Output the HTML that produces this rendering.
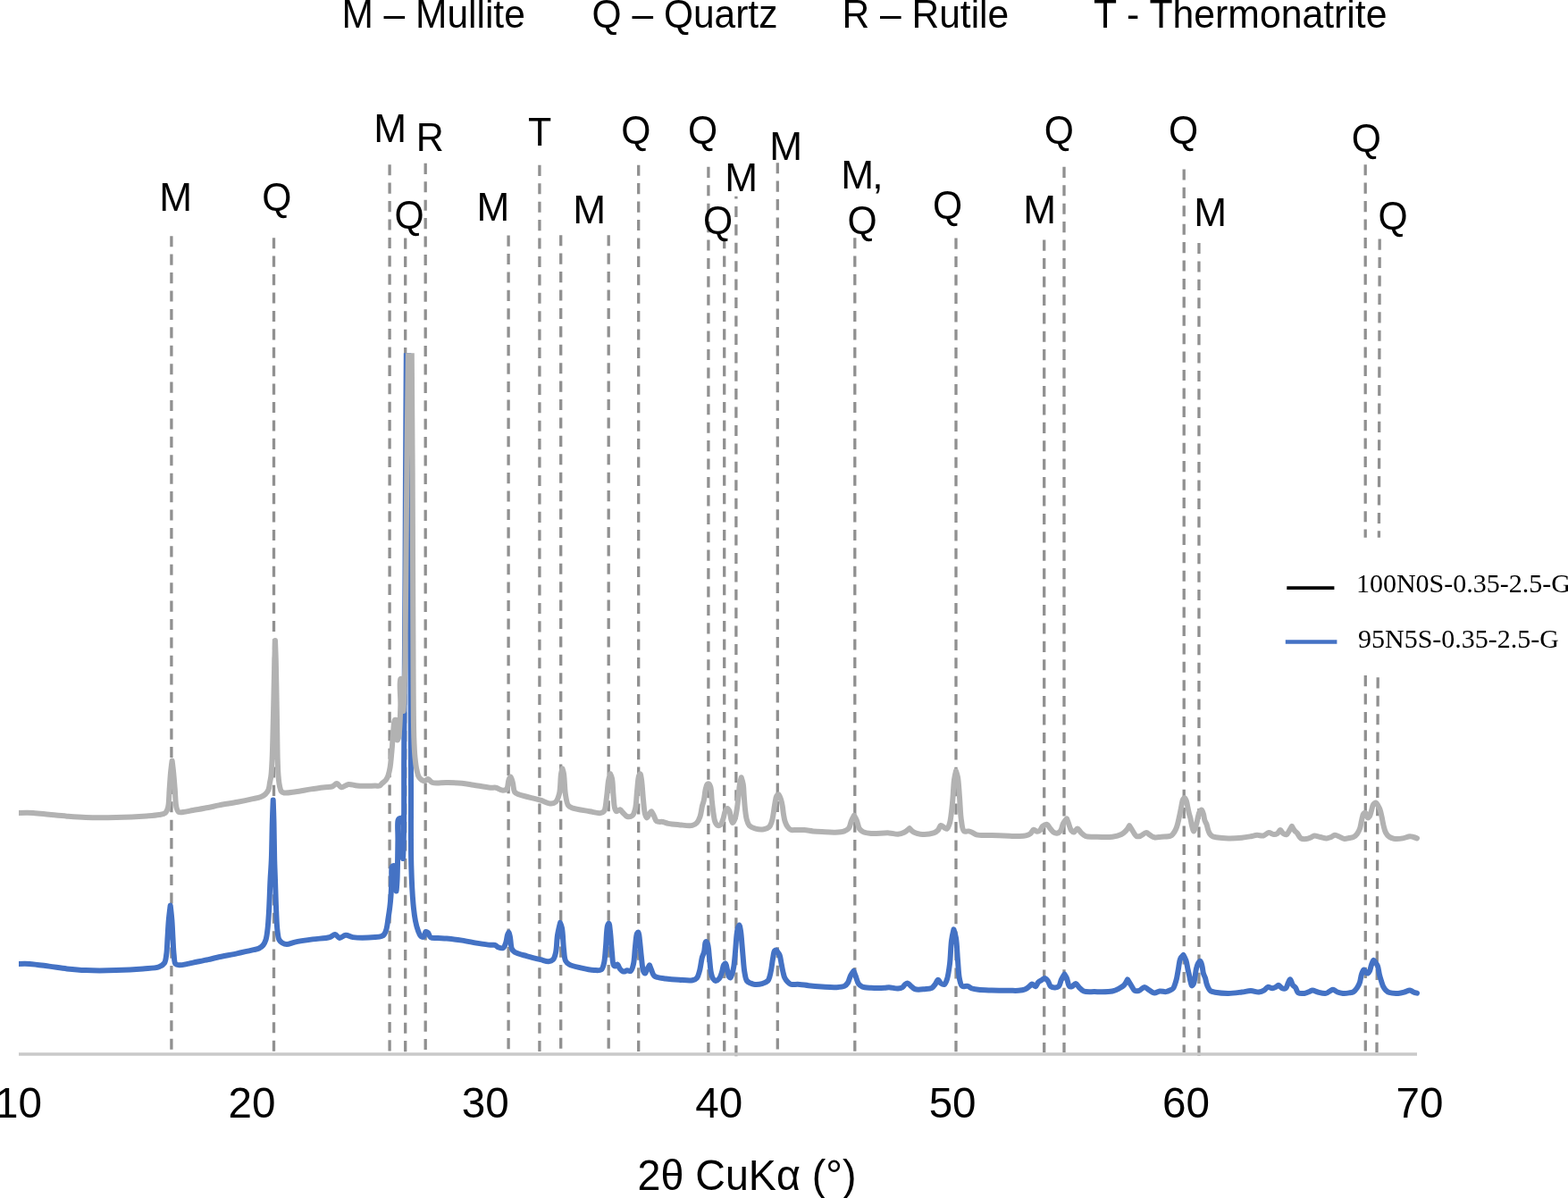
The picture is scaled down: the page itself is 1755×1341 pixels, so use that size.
<!DOCTYPE html>
<html><head><meta charset="utf-8"><style>
html,body{margin:0;padding:0;background:#fff;width:1755px;height:1341px;overflow:hidden;}
svg{display:block;}
text{font-family:"Liberation Sans",Arial,sans-serif;fill:#000;}
</style></head><body>
<svg width="1755" height="1341" viewBox="0 0 1755 1341">
<rect width="1755" height="1341" fill="#fff"/>
<defs><clipPath id="pa"><rect x="21" y="395.3" width="1580" height="800"/></clipPath></defs>
<g font-size="42.5">
<text transform="translate(382.4,31) scale(1,1.04)">M – Mullite</text>
<text transform="translate(662.6,31) scale(1,1.04)">Q – Quartz</text>
<text transform="translate(942.6,31) scale(1,1.04)">R – Rutile</text>
<text transform="translate(1223.9,31) scale(1.006,1.04)">T - Thermonatrite</text>
</g>
<g stroke="#909090" stroke-width="3.3" stroke-dasharray="12.1 8.32" fill="none">
<line x1="191.9" y1="264.2" x2="191.9" y2="1178"/>
<line x1="306.5" y1="266.2" x2="306.5" y2="1178"/>
<line x1="436.1" y1="184.2" x2="436.1" y2="1178"/>
<line x1="453.7" y1="266.6" x2="453.7" y2="1178"/>
<line x1="476.2" y1="182.8" x2="476.2" y2="1178"/>
<line x1="569.1" y1="263.6" x2="569.1" y2="1178"/>
<line x1="603.9" y1="184.8" x2="603.9" y2="1178"/>
<line x1="627.7" y1="263.2" x2="627.7" y2="1178"/>
<line x1="681.2" y1="263.2" x2="681.2" y2="1178"/>
<line x1="714.7" y1="184.7" x2="714.7" y2="1178"/>
<line x1="792.9" y1="186.8" x2="792.9" y2="1178"/>
<line x1="810.7" y1="266.2" x2="810.7" y2="1178"/>
<line x1="823.9" y1="219.8" x2="823.9" y2="1183" stroke-dashoffset="9.3"/>
<line x1="870.3" y1="182.2" x2="870.3" y2="1178"/>
<line x1="956.8" y1="266.2" x2="956.8" y2="1178"/>
<line x1="1070.0" y1="266.6" x2="1070.0" y2="1178"/>
<line x1="1168.7" y1="268.6" x2="1168.7" y2="1178"/>
<line x1="1191.0" y1="186.8" x2="1191.0" y2="1178"/>
<line x1="1325.2" y1="189.4" x2="1325.2" y2="1178"/>
<line x1="1341.95" y1="272" x2="1341.95" y2="1182"/>
<line x1="1528.2" y1="184.2" x2="1528.2" y2="601.7"/>
<line x1="1528.3" y1="756.1" x2="1528.3" y2="1178"/>
<line x1="1544.2" y1="267.6" x2="1543.4" y2="601.7"/>
<line x1="1542.2" y1="758.3" x2="1541.0" y2="1178"/>
</g>
<g clip-path="url(#pa)" fill="none" stroke-width="6" stroke-linejoin="round" stroke-linecap="round">
<path stroke="#4472c4" d="M21.00,1078.90 C21.00,1078.90 28.41,1078.62 33.00,1078.90 C39.24,1079.28 47.85,1080.66 55.00,1081.60 C61.83,1082.50 68.24,1083.65 75.00,1084.40 C81.90,1085.16 88.15,1085.78 96.00,1086.10 C105.97,1086.50 119.03,1086.41 130.00,1086.10 C140.32,1085.81 151.28,1085.16 160.00,1084.40 C166.77,1083.81 173.75,1083.94 178.00,1082.30 C180.71,1081.25 182.62,1080.07 184.00,1078.00 C185.63,1075.56 185.73,1071.85 186.30,1068.00 C187.05,1062.90 187.09,1056.16 187.50,1050.00 C187.93,1043.51 188.23,1036.34 188.80,1030.00 C189.32,1024.23 190.70,1013.50 190.70,1013.50 C190.70,1013.50 191.94,1024.23 192.40,1030.00 C192.90,1036.34 193.12,1043.51 193.50,1050.00 C193.86,1056.16 193.99,1062.75 194.60,1068.00 C195.08,1072.13 194.85,1077.15 196.50,1079.00 C197.57,1080.20 199.23,1080.19 201.00,1080.30 C203.47,1080.46 207.31,1079.40 210.00,1078.90 C212.21,1078.49 213.49,1078.13 216.00,1077.60 C220.22,1076.71 228.09,1075.17 233.00,1074.10 C236.78,1073.28 238.98,1072.67 243.00,1071.80 C249.09,1070.48 258.81,1068.61 266.00,1067.10 C272.37,1065.76 279.62,1064.29 284.00,1063.20 C286.55,1062.56 288.22,1062.40 290.00,1061.50 C291.70,1060.64 293.28,1059.49 294.50,1058.00 C295.83,1056.38 296.72,1054.41 297.50,1052.00 C298.56,1048.75 298.95,1044.52 299.50,1040.00 C300.20,1034.19 300.55,1027.60 301.00,1020.00 C301.59,1009.96 301.98,995.44 302.50,985.00 C302.92,976.53 303.45,970.82 303.80,962.00 C304.28,950.10 304.43,932.12 304.80,920.00 C305.08,910.74 305.70,895.50 305.70,895.50 C305.70,895.50 306.27,910.74 306.50,920.00 C306.80,932.12 306.89,950.09 307.20,962.00 C307.43,970.81 307.71,976.53 308.00,985.00 C308.36,995.45 308.72,1009.68 309.20,1020.00 C309.58,1028.18 309.74,1036.11 310.50,1042.00 C311.02,1046.00 311.24,1049.64 312.50,1052.00 C313.38,1053.64 314.61,1054.67 316.00,1055.50 C317.43,1056.35 319.09,1056.97 321.00,1057.00 C323.56,1057.04 326.39,1055.37 330.00,1054.60 C335.33,1053.47 343.41,1052.33 350.00,1051.40 C356.41,1050.50 364.53,1050.48 369.00,1049.10 C371.66,1048.28 373.14,1045.83 375.00,1046.00 C376.80,1046.17 378.12,1049.68 380.00,1049.90 C382.07,1050.14 384.56,1046.87 387.00,1046.70 C389.55,1046.52 391.55,1048.59 395.00,1049.10 C400.98,1049.98 414.24,1049.55 420.00,1049.10 C423.06,1048.86 425.21,1048.70 427.00,1048.00 C428.28,1047.50 429.16,1047.02 430.00,1046.00 C431.13,1044.63 431.81,1042.39 432.50,1040.00 C433.44,1036.73 433.87,1032.04 434.50,1028.00 C435.14,1023.88 435.80,1019.67 436.30,1015.50 C436.80,1011.34 437.18,1007.55 437.50,1003.00 C437.88,997.55 438.13,990.62 438.30,985.00 C438.45,980.04 437.82,973.32 438.50,971.00 C438.75,970.15 438.99,969.69 439.50,969.40 C440.09,969.07 441.35,969.02 442.00,969.40 C442.72,969.81 443.13,970.61 443.50,972.00 C444.59,976.05 443.22,997.49 443.50,997.50 C443.70,997.51 444.23,990.46 444.50,985.00 C445.02,974.65 445.22,952.35 445.40,940.00 C445.53,931.37 444.46,921.12 445.60,918.00 C445.96,917.01 446.35,916.61 447.00,916.30 C447.75,915.94 449.33,915.79 450.00,916.30 C450.76,916.88 450.74,918.08 451.00,920.00 C451.83,926.29 450.80,961.00 451.00,961.00 C451.18,961.00 451.78,942.74 452.00,930.00 C452.36,909.54 452.10,873.55 452.20,850.00 C452.28,831.38 452.37,821.38 452.50,800.00 C452.73,761.75 453.16,698.99 453.50,640.00 C453.92,567.00 454.14,450.53 454.80,395.00 C455.14,366.40 456.00,330.00 456.00,330.00 C456.00,330.00 456.94,366.40 457.30,395.00 C457.99,450.53 458.06,572.75 458.50,640.00 C458.81,687.06 459.25,720.00 459.50,760.00 C459.75,800.00 459.86,842.98 460.00,880.00 C460.12,911.88 459.64,944.68 460.30,969.00 C460.76,985.92 461.46,1000.57 462.50,1012.00 C463.20,1019.63 463.91,1025.56 465.00,1031.00 C465.84,1035.20 466.83,1038.93 468.00,1042.00 C468.90,1044.35 469.72,1046.93 471.00,1048.00 C471.87,1048.73 473.17,1049.29 474.00,1048.90 C475.18,1048.35 475.39,1043.58 476.50,1043.10 C477.22,1042.79 478.24,1043.36 479.00,1044.00 C480.16,1044.98 480.38,1048.26 482.00,1049.30 C483.86,1050.49 487.18,1049.79 490.00,1050.00 C493.15,1050.23 496.23,1050.27 500.00,1050.60 C504.92,1051.04 511.27,1051.74 517.00,1052.60 C522.93,1053.49 529.37,1055.00 535.00,1055.90 C539.95,1056.69 545.50,1057.56 549.00,1057.80 C551.08,1057.94 552.49,1057.34 554.00,1057.80 C555.48,1058.25 556.52,1059.95 558.00,1060.50 C559.51,1061.06 561.69,1061.75 563.00,1061.10 C564.43,1060.39 565.21,1057.95 566.00,1055.90 C566.99,1053.33 567.25,1048.97 568.00,1046.70 C568.47,1045.29 569.05,1043.36 569.50,1043.40 C570.08,1043.45 570.52,1046.93 571.00,1049.30 C571.71,1052.79 571.66,1059.60 573.00,1062.40 C573.77,1064.03 574.44,1064.69 576.00,1065.70 C578.83,1067.53 585.23,1068.90 590.00,1070.30 C594.89,1071.74 600.63,1073.15 605.00,1074.20 C608.37,1075.01 611.46,1076.41 614.00,1076.20 C615.94,1076.04 617.72,1075.50 619.00,1074.20 C620.60,1072.58 621.22,1069.66 622.00,1066.40 C623.20,1061.39 623.05,1052.66 624.00,1046.70 C624.80,1041.67 627.00,1032.90 627.00,1032.90 C627.00,1032.90 628.44,1036.13 629.00,1038.80 C630.09,1044.00 630.20,1055.69 631.00,1062.40 C631.59,1067.42 631.50,1072.54 633.00,1075.50 C633.98,1077.43 635.09,1078.36 637.00,1079.50 C639.96,1081.27 645.48,1082.33 650.00,1083.40 C654.79,1084.53 660.77,1085.80 665.00,1086.00 C668.07,1086.15 671.17,1086.72 673.00,1085.40 C674.81,1084.09 675.22,1081.22 676.00,1078.20 C677.20,1073.54 677.37,1066.32 678.00,1059.80 C678.71,1052.43 678.79,1040.06 680.00,1036.20 C680.43,1034.83 681.08,1033.52 681.50,1033.60 C682.24,1033.74 682.53,1039.01 683.00,1042.80 C683.75,1048.84 684.23,1059.51 685.00,1066.40 C685.60,1071.80 685.54,1079.10 687.00,1080.80 C687.55,1081.44 688.37,1081.55 689.00,1081.40 C689.72,1081.23 690.33,1079.40 691.00,1079.50 C691.99,1079.64 692.87,1083.33 694.00,1084.70 C694.92,1085.81 696.04,1086.88 697.00,1087.30 C697.69,1087.60 698.28,1087.61 699.00,1087.50 C699.92,1087.36 700.91,1086.34 702.00,1086.20 C703.22,1086.04 704.93,1087.42 706.00,1086.80 C707.54,1085.90 708.22,1082.26 709.00,1079.00 C710.20,1073.99 710.27,1065.35 711.00,1059.30 C711.62,1054.12 711.83,1047.05 713.00,1044.90 C713.43,1044.11 714.09,1043.45 714.50,1043.60 C715.40,1043.93 715.52,1049.15 716.00,1052.80 C716.70,1058.10 717.27,1066.38 718.00,1072.40 C718.62,1077.58 718.85,1083.98 720.00,1086.80 C720.55,1088.16 721.37,1089.55 722.00,1089.50 C722.72,1089.44 723.24,1086.91 724.00,1085.50 C724.88,1083.87 727.00,1080.30 727.00,1080.30 C727.00,1080.30 728.24,1083.68 729.00,1085.50 C729.87,1087.58 730.60,1090.68 732.00,1092.10 C733.09,1093.21 734.36,1093.49 736.00,1094.00 C738.36,1094.73 741.61,1094.99 745.00,1095.40 C749.36,1095.93 755.00,1096.38 760.00,1096.70 C765.00,1097.02 771.41,1098.10 775.00,1097.30 C777.20,1096.81 778.72,1096.14 780.00,1094.70 C781.57,1092.93 782.11,1089.93 783.00,1086.80 C784.22,1082.50 784.92,1074.89 786.00,1071.10 C786.64,1068.86 787.42,1068.02 788.00,1065.90 C788.85,1062.79 788.94,1054.37 790.00,1054.10 C790.56,1053.96 791.45,1055.36 792.00,1056.70 C793.21,1059.65 793.35,1067.05 794.00,1072.40 C794.68,1077.98 795.06,1085.32 796.00,1089.50 C796.57,1092.02 797.01,1093.92 798.00,1095.40 C798.79,1096.58 799.90,1097.92 801.00,1098.00 C802.21,1098.08 803.91,1096.71 805.00,1095.40 C806.40,1093.72 807.17,1090.69 808.00,1088.20 C808.85,1085.66 809.04,1081.99 810.00,1080.30 C810.57,1079.31 811.43,1078.15 812.00,1078.30 C812.92,1078.54 813.35,1083.04 814.00,1085.50 C814.68,1088.07 815.08,1092.03 816.00,1093.40 C816.44,1094.05 817.03,1094.62 817.50,1094.50 C818.26,1094.30 818.92,1091.75 819.50,1090.00 C820.25,1087.75 820.77,1085.25 821.30,1082.00 C822.10,1077.03 822.65,1069.06 823.20,1063.00 C823.70,1057.44 823.96,1051.41 824.50,1047.00 C824.88,1043.87 825.16,1041.09 825.80,1039.00 C826.24,1037.56 826.92,1035.46 827.40,1035.50 C828.03,1035.56 828.59,1039.68 829.00,1042.00 C829.46,1044.61 829.58,1047.03 829.90,1050.40 C830.38,1055.46 830.92,1063.07 831.50,1069.40 C832.08,1075.74 832.46,1083.18 833.40,1088.40 C834.08,1092.14 834.41,1095.87 835.90,1097.90 C836.94,1099.33 838.65,1099.85 840.00,1100.50 C841.18,1101.07 842.02,1101.50 843.50,1101.70 C845.87,1102.02 850.21,1101.85 853.00,1101.10 C855.42,1100.45 857.98,1099.41 859.40,1097.90 C860.63,1096.60 860.91,1094.85 861.50,1093.00 C862.23,1090.73 862.66,1088.12 863.20,1085.20 C863.88,1081.51 864.39,1076.35 865.10,1072.60 C865.68,1069.53 865.91,1065.48 867.00,1064.30 C867.53,1063.73 868.31,1063.51 868.90,1063.70 C869.68,1063.95 870.36,1065.54 871.00,1066.50 C871.63,1067.44 872.21,1068.10 872.70,1069.40 C873.54,1071.61 873.97,1075.73 874.60,1078.90 C875.23,1082.07 875.80,1085.56 876.50,1088.40 C877.08,1090.76 877.48,1092.93 878.40,1094.80 C879.23,1096.48 880.42,1098.01 881.60,1099.20 C882.64,1100.25 883.97,1101.30 885.00,1101.70 C885.71,1101.97 886.11,1101.86 887.00,1101.90 C888.78,1101.99 892.19,1101.72 895.00,1101.90 C898.15,1102.10 901.33,1102.80 905.00,1103.20 C909.49,1103.69 915.00,1104.17 920.00,1104.50 C925.00,1104.83 930.51,1105.39 935.00,1105.20 C938.68,1105.05 942.55,1105.09 945.00,1103.90 C946.82,1103.02 947.90,1101.68 949.00,1100.00 C950.35,1097.94 950.81,1094.41 952.00,1092.10 C953.03,1090.09 955.50,1086.80 955.50,1086.80 C955.50,1086.80 957.13,1091.10 958.00,1093.40 C958.95,1095.92 959.60,1099.38 961.00,1101.30 C962.09,1102.80 963.23,1103.75 965.00,1104.50 C967.48,1105.55 971.32,1105.56 975.00,1105.80 C979.49,1106.09 986.34,1106.02 990.00,1105.80 C992.12,1105.67 993.05,1105.19 995.00,1105.20 C997.76,1105.21 1002.25,1106.67 1005.00,1106.50 C1006.97,1106.38 1008.64,1106.02 1010.00,1105.20 C1011.26,1104.44 1011.91,1102.68 1013.00,1101.90 C1013.93,1101.23 1015.04,1100.45 1016.00,1100.60 C1017.05,1100.76 1017.86,1102.25 1019.00,1103.20 C1020.44,1104.40 1021.84,1106.44 1024.00,1107.20 C1026.83,1108.19 1031.64,1107.49 1035.00,1107.20 C1037.89,1106.95 1040.93,1106.95 1043.00,1105.80 C1044.78,1104.81 1045.81,1102.85 1047.00,1101.30 C1048.13,1099.82 1048.97,1096.74 1050.00,1096.70 C1050.97,1096.66 1051.77,1099.73 1053.00,1100.60 C1054.14,1101.40 1055.90,1102.35 1057.00,1101.90 C1058.37,1101.33 1059.15,1098.56 1060.00,1096.00 C1061.38,1091.87 1062.21,1085.30 1063.00,1079.00 C1063.98,1071.23 1064.02,1059.91 1065.00,1052.80 C1065.68,1047.85 1067.50,1040.30 1067.50,1040.30 C1067.50,1040.30 1069.33,1046.05 1070.00,1050.10 C1071.06,1056.47 1071.30,1067.06 1072.00,1075.00 C1072.64,1082.30 1072.77,1090.74 1074.00,1096.00 C1074.78,1099.33 1075.25,1102.70 1077.00,1103.90 C1078.47,1104.91 1081.14,1103.45 1083.00,1103.90 C1084.80,1104.34 1086.14,1105.86 1088.00,1106.50 C1090.09,1107.22 1092.21,1107.48 1095.00,1107.80 C1099.05,1108.27 1104.64,1108.33 1110.00,1108.50 C1116.19,1108.69 1124.48,1108.76 1130.00,1108.80 C1133.91,1108.83 1136.97,1109.08 1140.00,1108.80 C1142.55,1108.56 1144.94,1108.33 1147.00,1107.50 C1148.89,1106.74 1150.57,1105.28 1152.00,1104.20 C1153.16,1103.32 1153.90,1101.68 1155.00,1101.60 C1156.21,1101.52 1157.86,1104.44 1159.00,1104.20 C1160.22,1103.94 1160.78,1100.82 1162.00,1099.60 C1163.14,1098.46 1164.70,1097.79 1166.00,1097.00 C1167.19,1096.27 1168.38,1094.87 1169.50,1095.00 C1170.72,1095.15 1171.98,1096.93 1173.00,1098.30 C1174.20,1099.90 1174.53,1103.02 1176.00,1104.20 C1177.30,1105.25 1179.43,1105.55 1181.00,1105.50 C1182.41,1105.46 1183.93,1105.22 1185.00,1104.20 C1186.51,1102.76 1186.85,1098.77 1188.00,1096.40 C1189.04,1094.25 1191.50,1090.50 1191.50,1090.50 C1191.50,1090.50 1193.21,1093.19 1194.00,1095.00 C1195.08,1097.48 1195.49,1103.10 1197.00,1104.20 C1197.84,1104.81 1198.99,1104.56 1200.00,1104.20 C1201.32,1103.72 1202.72,1100.79 1204.00,1100.90 C1205.39,1101.02 1206.52,1104.08 1208.00,1105.50 C1209.51,1106.95 1210.80,1108.67 1213.00,1109.50 C1216.01,1110.64 1220.49,1110.05 1225.00,1110.10 C1230.82,1110.16 1239.91,1110.59 1245.00,1109.50 C1248.35,1108.78 1250.70,1107.42 1253.00,1106.20 C1254.92,1105.18 1256.56,1104.39 1258.00,1102.90 C1259.62,1101.22 1262.00,1096.40 1262.00,1096.40 C1262.00,1096.40 1264.64,1100.80 1266.00,1102.90 C1267.31,1104.93 1268.31,1107.90 1270.00,1108.80 C1271.42,1109.55 1273.33,1109.29 1275.00,1108.80 C1277.00,1108.21 1279.09,1104.89 1281.00,1104.90 C1282.74,1104.91 1284.23,1107.15 1286.00,1108.20 C1287.88,1109.32 1289.96,1111.21 1292.00,1111.40 C1293.96,1111.58 1295.90,1109.73 1298.00,1109.50 C1300.22,1109.25 1302.89,1110.38 1305.00,1110.10 C1306.84,1109.86 1308.58,1109.00 1310.00,1108.30 C1311.16,1107.73 1312.20,1107.32 1313.00,1106.40 C1313.94,1105.33 1314.39,1103.65 1315.00,1102.00 C1315.74,1100.00 1316.39,1097.76 1317.00,1095.20 C1317.76,1091.97 1318.33,1087.76 1319.00,1084.10 C1319.66,1080.50 1319.78,1076.08 1321.00,1073.40 C1321.88,1071.47 1324.50,1069.00 1324.50,1069.00 C1324.50,1069.00 1326.70,1072.92 1327.50,1075.30 C1328.45,1078.14 1328.86,1082.12 1329.50,1085.00 C1330.02,1087.33 1330.52,1089.12 1331.00,1091.30 C1331.52,1093.64 1331.94,1096.43 1332.50,1098.60 C1332.96,1100.38 1333.31,1103.26 1334.00,1103.40 C1334.55,1103.51 1335.47,1102.10 1336.00,1101.00 C1336.82,1099.31 1337.03,1096.39 1337.50,1093.80 C1338.04,1090.81 1338.31,1086.89 1339.00,1084.10 C1339.55,1081.89 1340.09,1079.76 1341.00,1078.30 C1341.69,1077.19 1342.81,1075.64 1343.50,1075.80 C1344.41,1076.01 1344.94,1079.47 1345.50,1081.60 C1346.15,1084.10 1346.30,1087.54 1347.00,1089.90 C1347.55,1091.75 1348.44,1092.97 1349.00,1094.70 C1349.63,1096.63 1349.88,1099.05 1350.50,1101.00 C1351.06,1102.76 1351.69,1104.46 1352.50,1105.90 C1353.22,1107.19 1353.85,1108.50 1355.00,1109.30 C1356.28,1110.18 1357.86,1110.32 1360.00,1110.70 C1363.64,1111.35 1370.00,1111.93 1375.00,1111.90 C1380.00,1111.87 1385.51,1111.02 1390.00,1110.50 C1393.68,1110.07 1396.76,1109.08 1400.00,1109.10 C1403.08,1109.12 1406.33,1110.74 1409.00,1110.50 C1411.23,1110.30 1413.29,1109.41 1415.00,1108.40 C1416.58,1107.47 1417.48,1105.15 1419.00,1104.80 C1420.49,1104.45 1422.43,1106.25 1424.00,1106.20 C1425.42,1106.15 1426.80,1105.42 1428.00,1104.80 C1429.12,1104.23 1429.95,1102.64 1431.00,1102.70 C1432.26,1102.77 1433.56,1105.66 1435.00,1106.20 C1436.25,1106.67 1437.92,1106.89 1439.00,1106.20 C1440.44,1105.28 1441.07,1101.60 1442.00,1099.80 C1442.70,1098.44 1443.30,1096.27 1444.00,1096.30 C1444.93,1096.34 1445.82,1101.08 1447.00,1102.70 C1447.90,1103.93 1449.09,1104.31 1450.00,1105.50 C1451.14,1106.99 1451.40,1110.12 1453.00,1111.20 C1454.68,1112.33 1457.78,1112.16 1460.00,1111.90 C1462.11,1111.65 1464.36,1110.47 1466.00,1109.80 C1467.19,1109.32 1467.81,1108.46 1469.00,1108.40 C1470.64,1108.32 1472.77,1109.94 1475.00,1110.50 C1477.67,1111.17 1481.50,1112.35 1484.00,1111.90 C1485.98,1111.54 1487.53,1109.85 1489.00,1109.10 C1490.12,1108.53 1490.88,1107.66 1492.00,1107.70 C1493.47,1107.75 1495.20,1109.80 1497.00,1110.50 C1498.86,1111.22 1500.91,1111.73 1503.00,1111.90 C1505.23,1112.08 1507.88,1111.75 1510.00,1111.40 C1511.82,1111.10 1513.54,1110.99 1515.00,1110.10 C1516.58,1109.14 1517.86,1107.31 1519.00,1105.60 C1520.22,1103.77 1521.20,1101.71 1522.00,1099.40 C1522.93,1096.73 1523.10,1092.90 1524.00,1090.40 C1524.69,1088.47 1525.59,1085.59 1526.50,1085.50 C1527.28,1085.42 1528.13,1087.93 1529.00,1088.60 C1529.65,1089.10 1530.39,1089.66 1531.00,1089.50 C1531.75,1089.30 1532.42,1087.97 1533.00,1086.80 C1533.84,1085.12 1534.21,1082.17 1535.00,1080.10 C1535.73,1078.20 1536.57,1074.91 1537.50,1074.80 C1538.27,1074.71 1539.25,1076.79 1540.00,1077.90 C1540.76,1079.02 1541.43,1079.95 1542.00,1081.50 C1542.89,1083.92 1543.26,1088.36 1544.00,1091.30 C1544.62,1093.76 1545.31,1095.85 1546.00,1098.00 C1546.65,1100.01 1547.13,1102.04 1548.00,1103.80 C1548.82,1105.45 1549.79,1107.08 1551.00,1108.30 C1552.14,1109.45 1553.27,1110.38 1555.00,1111.00 C1557.50,1111.89 1561.97,1112.06 1565.00,1111.90 C1567.55,1111.76 1569.78,1111.11 1572.00,1110.50 C1574.10,1109.93 1576.23,1108.27 1578.00,1108.40 C1579.49,1108.51 1580.64,1109.94 1582.00,1110.50 C1583.31,1111.03 1586.00,1111.70 1586.00,1111.70"/>
<path stroke="#b2b2b2" d="M21.00,910.00 C21.00,910.00 31.52,909.73 37.00,910.00 C42.83,910.29 48.84,911.20 55.00,911.80 C61.49,912.43 68.25,913.17 75.00,913.70 C81.91,914.24 88.16,914.76 96.00,915.00 C105.97,915.31 118.67,915.27 130.00,915.00 C141.34,914.73 155.15,914.05 164.00,913.40 C169.69,912.98 174.16,912.73 178.00,912.00 C180.76,911.47 183.33,911.39 185.00,910.00 C186.61,908.67 187.25,906.68 188.00,904.00 C189.29,899.37 189.09,890.58 189.60,884.00 C190.09,877.59 190.44,870.79 191.00,865.00 C191.47,860.11 192.60,851.50 192.60,851.50 C192.60,851.50 193.70,860.11 194.20,865.00 C194.79,870.79 195.26,877.59 195.80,884.00 C196.36,890.58 196.27,899.63 197.50,904.00 C198.15,906.31 198.69,908.19 200.00,909.00 C201.24,909.77 203.02,909.18 205.00,909.00 C207.96,908.73 211.93,907.73 216.00,907.00 C221.05,906.10 227.83,905.01 233.00,904.00 C237.36,903.14 240.43,902.30 245.00,901.40 C251.02,900.22 259.48,898.95 266.00,897.70 C271.70,896.61 277.30,895.45 282.00,894.40 C285.73,893.57 289.31,893.10 292.00,892.00 C294.03,891.17 295.59,890.31 297.00,889.00 C298.44,887.66 299.67,885.96 300.50,884.00 C301.45,881.73 301.52,878.58 302.00,876.00 C302.45,873.59 302.93,871.92 303.30,869.00 C303.90,864.23 304.25,857.06 304.60,850.00 C305.04,841.14 305.21,830.96 305.50,820.00 C305.85,806.73 306.19,789.93 306.50,776.00 C306.78,763.40 307.02,750.66 307.30,740.00 C307.52,731.48 308.00,717.00 308.00,717.00 C308.00,717.00 308.57,731.48 308.80,740.00 C309.09,750.66 309.28,763.40 309.50,776.00 C309.75,789.93 309.98,806.73 310.20,820.00 C310.38,830.95 310.43,841.27 310.70,850.00 C310.91,856.76 311.04,862.61 311.50,868.00 C311.87,872.41 312.26,876.72 313.00,880.00 C313.54,882.37 313.92,884.76 315.00,886.00 C315.78,886.90 316.60,887.24 318.00,887.50 C320.77,888.01 326.39,886.81 331.00,886.20 C336.30,885.50 342.41,884.23 348.00,883.40 C353.41,882.60 359.58,881.84 364.00,881.30 C367.12,880.92 369.73,881.24 372.00,880.40 C373.97,879.67 375.37,876.91 377.00,877.00 C378.70,877.10 380.03,880.98 382.00,881.30 C384.26,881.66 387.13,878.33 390.00,878.00 C393.10,877.64 396.08,879.29 400.00,879.60 C405.51,880.04 415.56,879.64 420.00,879.60 C422.22,879.58 423.64,880.08 425.00,879.50 C426.26,878.96 426.91,877.52 428.00,876.50 C429.22,875.36 430.92,874.39 432.00,873.00 C433.10,871.57 433.79,869.96 434.50,868.00 C435.41,865.48 436.02,862.45 436.60,859.00 C437.37,854.45 437.77,848.70 438.30,843.00 C438.91,836.48 439.37,828.52 440.00,822.00 C440.55,816.30 440.54,807.44 441.80,806.00 C442.15,805.60 442.59,805.65 443.00,805.70 C443.48,805.76 444.11,805.85 444.50,806.50 C445.90,808.84 443.48,828.11 444.50,828.40 C444.87,828.51 445.56,827.36 446.00,826.00 C447.56,821.14 447.93,801.46 448.30,790.00 C448.63,779.55 446.39,762.15 448.30,760.00 C448.76,759.49 449.48,759.65 450.00,759.80 C450.55,759.96 451.10,760.16 451.50,761.00 C453.23,764.59 451.27,795.90 451.50,795.90 C451.70,795.90 452.29,778.95 452.60,770.00 C452.93,760.37 453.17,752.92 453.40,740.00 C453.82,716.41 453.90,680.68 454.30,640.00 C454.92,576.33 455.87,457.68 456.90,395.00 C457.54,355.97 459.00,300.00 459.00,300.00 C459.00,300.00 460.33,355.97 460.80,395.00 C461.56,457.68 461.78,572.75 462.10,640.00 C462.32,687.06 462.35,725.93 462.60,760.00 C462.79,785.26 462.78,809.90 463.30,826.00 C463.60,835.30 463.86,841.50 464.50,848.00 C465.01,853.20 465.60,858.01 466.50,862.00 C467.19,865.07 467.50,867.92 469.00,870.00 C470.41,871.95 473.17,874.19 475.00,874.30 C476.44,874.39 477.63,871.99 479.00,872.10 C480.62,872.23 481.68,875.20 484.00,876.00 C487.69,877.27 494.59,875.89 500.00,876.00 C505.58,876.11 511.73,876.19 517.00,876.70 C521.64,877.15 525.26,877.96 530.00,878.70 C535.74,879.59 544.43,881.34 549.00,881.70 C551.55,881.90 552.96,881.29 555.00,881.70 C557.29,882.16 559.84,884.45 562.00,884.60 C563.78,884.72 565.78,884.55 567.00,883.30 C568.76,881.50 568.49,875.26 569.50,872.80 C570.10,871.33 570.86,869.43 571.50,869.50 C572.39,869.59 573.28,874.09 574.00,876.70 C574.82,879.69 574.59,884.42 576.00,886.50 C576.98,887.93 578.06,888.24 580.00,889.10 C584.04,890.89 595.55,893.23 600.00,894.40 C602.22,894.98 602.98,895.11 605.00,895.70 C608.15,896.62 613.87,899.68 617.00,899.60 C619.04,899.55 620.63,899.01 622.00,897.70 C623.88,895.90 625.02,892.33 626.00,888.50 C627.46,882.78 627.14,871.23 628.00,866.20 C628.45,863.58 629.50,860.30 629.50,860.30 C629.50,860.30 630.55,863.55 631.00,866.20 C631.88,871.42 631.91,883.32 633.00,889.80 C633.78,894.45 634.31,899.23 636.00,901.60 C637.06,903.08 638.05,903.41 640.00,904.20 C644.03,905.84 654.17,907.16 660.00,908.20 C664.50,909.01 669.12,910.52 672.00,910.10 C673.74,909.85 674.94,909.57 676.00,908.20 C678.01,905.60 678.18,897.88 679.00,892.40 C679.88,886.54 680.13,878.91 681.00,874.10 C681.58,870.90 683.00,866.20 683.00,866.20 C683.00,866.20 684.47,869.15 685.00,871.50 C685.95,875.72 685.97,884.07 686.50,889.80 C686.97,894.89 687.05,900.94 688.00,904.20 C688.53,906.01 689.00,907.87 690.00,908.20 C691.00,908.53 692.83,905.98 694.00,906.20 C695.17,906.42 695.84,908.35 697.00,909.50 C698.42,910.92 700.12,913.50 702.00,914.00 C703.80,914.48 706.52,913.93 708.00,912.70 C709.66,911.31 710.22,908.56 711.00,905.50 C712.23,900.64 712.31,892.21 713.00,885.90 C713.65,880.00 713.96,871.94 715.00,868.80 C715.43,867.49 716.07,866.13 716.50,866.20 C717.15,866.30 717.55,869.93 718.00,872.80 C718.82,878.00 719.28,888.16 720.00,895.00 C720.62,900.89 720.93,907.84 722.00,911.40 C722.56,913.25 723.22,915.36 724.00,915.40 C724.86,915.45 726.08,912.10 727.00,910.80 C727.71,909.79 728.30,908.15 729.00,908.20 C729.94,908.26 731.02,911.60 732.00,913.40 C733.03,915.29 733.38,918.19 735.00,919.30 C736.67,920.44 739.78,919.54 742.00,920.00 C744.10,920.43 745.63,921.40 748.00,921.90 C751.29,922.59 755.77,922.87 760.00,923.20 C764.72,923.57 771.43,924.77 775.00,923.90 C777.22,923.36 778.63,922.44 780.00,921.00 C781.60,919.32 782.65,916.72 783.60,914.00 C784.79,910.61 785.18,905.30 786.00,902.00 C786.59,899.64 787.27,898.37 787.80,896.00 C788.54,892.71 788.86,887.29 789.60,884.00 C790.13,881.63 790.48,878.94 791.40,878.00 C791.90,877.48 792.65,877.19 793.20,877.40 C794.01,877.71 794.75,879.31 795.30,881.00 C796.34,884.22 796.25,891.00 796.80,896.00 C797.35,901.00 797.92,906.67 798.60,911.00 C799.12,914.33 799.31,917.49 800.30,919.80 C801.05,921.56 802.13,923.54 803.30,924.00 C804.20,924.36 805.44,924.08 806.30,923.40 C807.61,922.37 808.44,919.36 809.30,917.00 C810.29,914.29 810.64,910.15 811.70,908.00 C812.39,906.61 813.30,904.90 814.10,904.90 C814.90,904.90 815.86,906.60 816.50,908.00 C817.48,910.14 817.54,914.63 818.30,917.00 C818.82,918.64 819.41,920.96 820.10,921.00 C820.81,921.04 821.82,918.77 822.50,917.00 C823.61,914.14 824.22,909.24 824.90,905.00 C825.65,900.29 826.18,894.72 826.70,890.00 C827.16,885.78 827.31,881.55 827.90,878.00 C828.38,875.10 829.70,870.20 829.70,870.20 C829.70,870.20 831.30,875.10 831.80,878.00 C832.40,881.55 832.37,885.78 832.70,890.00 C833.07,894.72 833.36,900.29 833.90,905.00 C834.39,909.23 834.75,913.58 835.70,917.00 C836.45,919.70 836.96,922.24 838.60,924.00 C840.29,925.81 843.19,926.89 845.80,927.60 C848.56,928.35 852.15,928.62 854.80,928.20 C857.05,927.84 859.30,927.18 860.80,925.80 C862.32,924.40 863.02,922.05 863.80,919.80 C864.70,917.20 865.04,914.17 865.60,911.00 C866.25,907.32 866.73,902.59 867.40,899.00 C867.95,896.05 868.21,892.60 869.20,891.00 C869.77,890.08 870.64,889.16 871.30,889.30 C872.29,889.51 873.29,892.72 874.00,894.70 C874.80,896.91 875.23,899.43 875.70,902.00 C876.22,904.83 876.40,908.03 876.90,911.00 C877.40,913.96 877.80,917.20 878.70,919.80 C879.48,922.05 880.51,924.23 881.70,925.80 C882.67,927.08 883.67,928.24 885.00,928.80 C886.41,929.39 888.05,929.04 890.00,929.10 C892.76,929.18 896.67,928.88 900.00,929.10 C903.34,929.32 906.66,930.07 910.00,930.40 C913.33,930.73 916.33,930.90 920.00,931.10 C924.49,931.35 930.51,931.90 935.00,931.70 C938.68,931.54 942.32,931.37 945.00,930.40 C947.05,929.65 948.72,928.82 950.00,927.20 C951.59,925.19 951.91,921.16 953.00,918.60 C953.93,916.41 956.00,912.70 956.00,912.70 C956.00,912.70 958.08,916.38 959.00,918.60 C960.11,921.29 960.53,925.64 962.00,927.80 C963.08,929.38 964.27,930.27 966.00,931.10 C968.30,932.21 971.39,932.68 975.00,933.00 C980.33,933.48 989.49,932.13 995.00,932.40 C998.91,932.59 1001.98,933.93 1005.00,933.70 C1007.56,933.51 1009.85,932.77 1012.00,931.70 C1014.19,930.61 1018.00,927.20 1018.00,927.20 C1018.00,927.20 1021.05,930.62 1023.00,931.70 C1025.03,932.82 1027.20,933.43 1030.00,933.70 C1034.03,934.09 1041.45,933.64 1045.00,932.40 C1047.24,931.62 1048.67,930.52 1050.00,929.10 C1051.33,927.68 1051.74,924.20 1053.00,923.90 C1054.13,923.63 1055.74,925.82 1057.00,926.50 C1058.05,927.06 1059.13,928.13 1060.00,927.80 C1061.29,927.31 1062.16,924.20 1063.00,921.30 C1064.49,916.16 1065.18,906.74 1066.00,899.00 C1066.88,890.63 1067.08,879.43 1068.00,872.80 C1068.57,868.69 1070.00,862.90 1070.00,862.90 C1070.00,862.90 1071.44,867.01 1072.00,870.10 C1072.98,875.45 1073.36,884.67 1074.00,892.40 C1074.70,900.78 1074.86,911.62 1076.00,918.60 C1076.78,923.35 1077.02,928.86 1079.00,930.40 C1080.27,931.38 1082.44,930.15 1084.00,930.40 C1085.43,930.63 1086.62,931.11 1088.00,931.70 C1089.60,932.39 1090.74,933.79 1093.00,934.40 C1096.90,935.46 1104.10,934.78 1110.00,935.00 C1116.40,935.24 1124.48,935.63 1130.00,935.80 C1133.90,935.92 1136.85,936.09 1140.00,936.00 C1142.82,935.92 1145.68,935.94 1148.00,935.40 C1149.90,934.96 1151.53,934.44 1153.00,933.40 C1154.56,932.29 1155.55,929.09 1157.00,928.80 C1158.25,928.55 1159.75,930.77 1161.00,930.80 C1162.06,930.83 1163.10,930.26 1164.00,929.50 C1165.17,928.52 1165.66,926.00 1167.00,924.90 C1168.33,923.81 1170.65,922.53 1172.00,922.90 C1173.29,923.25 1173.91,925.46 1175.00,926.80 C1176.22,928.29 1177.52,930.42 1179.00,931.40 C1180.23,932.21 1181.71,932.87 1183.00,932.70 C1184.38,932.52 1185.92,931.47 1187.00,930.10 C1188.48,928.22 1188.70,924.00 1190.00,921.60 C1191.11,919.55 1194.00,916.40 1194.00,916.40 C1194.00,916.40 1195.27,919.69 1196.00,921.60 C1196.90,923.96 1197.67,927.87 1199.00,929.50 C1199.86,930.56 1200.97,931.51 1202.00,931.40 C1203.29,931.27 1204.69,927.45 1206.00,927.50 C1207.36,927.56 1208.52,930.69 1210.00,932.10 C1211.51,933.53 1212.90,935.19 1215.00,936.00 C1217.64,937.01 1221.09,936.56 1225.00,936.70 C1230.52,936.89 1239.52,937.43 1245.00,936.70 C1248.95,936.18 1252.34,935.33 1255.00,934.00 C1257.08,932.96 1258.53,931.67 1260.00,930.10 C1261.56,928.44 1264.00,924.20 1264.00,924.20 C1264.00,924.20 1265.86,927.10 1267.00,928.80 C1268.44,930.94 1270.15,935.03 1272.00,936.00 C1273.25,936.65 1274.54,936.38 1276.00,936.00 C1278.07,935.46 1281.01,932.03 1283.00,932.10 C1284.54,932.15 1285.57,933.87 1287.00,934.70 C1288.55,935.61 1290.07,936.90 1292.00,937.30 C1294.30,937.77 1297.19,936.95 1300.00,936.70 C1303.15,936.42 1307.73,936.63 1310.00,935.70 C1311.41,935.13 1312.08,934.34 1313.00,933.30 C1314.12,932.03 1315.17,930.15 1316.00,928.40 C1316.85,926.59 1317.39,924.75 1318.00,922.60 C1318.74,920.01 1319.35,916.88 1320.00,913.90 C1320.68,910.76 1321.32,907.39 1322.00,904.20 C1322.66,901.09 1322.97,896.84 1324.00,895.00 C1324.56,894.01 1325.39,893.00 1326.00,893.10 C1326.76,893.23 1327.46,895.46 1328.00,897.00 C1328.71,899.00 1328.99,901.84 1329.50,904.20 C1329.99,906.50 1330.47,908.88 1331.00,911.00 C1331.47,912.88 1332.04,914.36 1332.50,916.30 C1333.05,918.62 1333.39,921.56 1334.00,924.00 C1334.57,926.27 1335.27,930.46 1336.00,930.50 C1336.62,930.54 1337.42,927.56 1338.00,926.00 C1338.59,924.40 1339.03,922.82 1339.50,921.00 C1340.05,918.87 1340.45,916.13 1341.00,914.00 C1341.47,912.18 1341.71,910.29 1342.50,909.00 C1343.14,907.95 1344.30,906.45 1345.00,906.60 C1345.87,906.78 1346.44,909.69 1347.00,911.50 C1347.65,913.60 1347.81,916.51 1348.50,918.50 C1349.05,920.09 1349.94,921.08 1350.50,922.60 C1351.14,924.34 1351.39,926.57 1352.00,928.40 C1352.57,930.12 1353.09,931.96 1354.00,933.30 C1354.81,934.49 1355.83,935.55 1357.00,936.20 C1358.16,936.85 1359.25,936.91 1361.00,937.20 C1364.24,937.74 1370.25,938.31 1375.00,938.40 C1379.91,938.50 1385.52,938.14 1390.00,937.70 C1393.68,937.34 1396.97,936.73 1400.00,936.20 C1402.55,935.75 1404.66,934.91 1407.00,934.80 C1409.32,934.69 1411.83,935.97 1414.00,935.50 C1416.16,935.03 1417.95,932.20 1420.00,932.00 C1421.96,931.81 1424.20,934.10 1426.00,934.10 C1427.47,934.10 1428.85,933.50 1430.00,932.70 C1431.21,931.86 1432.00,929.10 1433.00,929.10 C1434.00,929.10 1434.79,931.86 1436.00,932.70 C1437.15,933.50 1438.87,934.46 1440.00,934.10 C1441.25,933.69 1442.03,931.30 1443.00,929.80 C1444.03,928.21 1446.00,924.80 1446.00,924.80 C1446.00,924.80 1447.90,928.42 1449.00,929.80 C1449.93,930.97 1450.99,931.51 1452.00,932.70 C1453.31,934.23 1454.25,937.35 1456.00,938.40 C1457.63,939.37 1460.02,939.32 1462.00,939.10 C1464.03,938.88 1466.36,937.69 1468.00,937.00 C1469.19,936.50 1469.76,935.66 1471.00,935.50 C1472.82,935.27 1475.67,936.52 1478.00,937.00 C1480.33,937.48 1482.87,938.48 1485.00,938.40 C1486.82,938.33 1488.46,937.63 1490.00,937.00 C1491.44,936.41 1492.50,934.91 1494.00,934.80 C1495.77,934.67 1498.10,936.25 1500.00,937.00 C1501.75,937.69 1503.31,938.95 1505.00,939.10 C1506.64,939.25 1508.33,938.37 1510.00,938.00 C1511.67,937.63 1513.51,937.66 1515.00,936.90 C1516.52,936.12 1517.87,934.76 1519.00,933.30 C1520.25,931.69 1521.20,929.70 1522.00,927.50 C1522.95,924.88 1523.30,921.36 1524.00,918.50 C1524.64,915.88 1524.86,912.28 1526.00,911.00 C1526.67,910.24 1527.78,909.71 1528.50,910.00 C1529.58,910.43 1530.07,915.21 1531.00,915.40 C1531.62,915.53 1532.43,914.48 1533.00,913.60 C1533.89,912.22 1534.34,909.51 1535.00,907.40 C1535.68,905.21 1535.93,902.25 1537.00,900.70 C1537.78,899.56 1539.11,898.26 1540.00,898.40 C1540.96,898.55 1541.75,900.74 1542.50,902.00 C1543.25,903.27 1543.91,904.40 1544.50,906.00 C1545.30,908.17 1545.87,911.18 1546.50,914.00 C1547.21,917.14 1547.70,920.87 1548.50,924.00 C1549.22,926.84 1549.79,929.77 1551.00,932.00 C1552.05,933.93 1553.42,935.68 1555.00,936.80 C1556.46,937.84 1558.01,938.37 1560.00,938.70 C1562.72,939.16 1566.88,938.87 1570.00,938.40 C1572.84,937.97 1575.78,936.28 1578.00,936.20 C1579.55,936.14 1580.68,936.65 1582.00,937.00 C1583.34,937.35 1586.00,938.30 1586.00,938.30"/>
</g>
<line x1="21" y1="1180" x2="1586" y2="1180" stroke="#c9c9c9" stroke-width="3.5"/>
<text transform="translate(178.27,235.8) scale(1,1.0)" font-size="44.2">M</text>
<text transform="translate(293.18,235.6) scale(1,1.035)" font-size="42.6">Q</text>
<text transform="translate(418.27,159.1) scale(1,1.0)" font-size="44.2">M</text>
<text transform="translate(465.67,169) scale(1,1.05)" font-size="43">R</text>
<text transform="translate(441.48,256.4) scale(1,1.035)" font-size="42.6">Q</text>
<text transform="translate(533.57,246.8) scale(1,1.0)" font-size="44.2">M</text>
<text transform="translate(590.93,162.9) scale(1,1.047)" font-size="43">T</text>
<text transform="translate(641.27,249.6) scale(1,1.0)" font-size="44.2">M</text>
<text transform="translate(695.18,160.6) scale(1,1.035)" font-size="42.6">Q</text>
<text transform="translate(769.88,161.2) scale(1,1.035)" font-size="42.6">Q</text>
<text transform="translate(786.88,262.0) scale(1,1.035)" font-size="42.6">Q</text>
<text transform="translate(811.17,214.1) scale(1,1.0)" font-size="44.2">M</text>
<text transform="translate(861.37,179.2) scale(1,1.0)" font-size="44.2">M</text>
<text transform="translate(941.17,210.7) scale(1,1.0)" font-size="44.2">M<tspan dx="-1.8">,</tspan></text>
<text transform="translate(948.38,261.8) scale(1,1.035)" font-size="42.6">Q</text>
<text transform="translate(1044.08,245.0) scale(1,1.035)" font-size="42.6">Q</text>
<text transform="translate(1145.17,249.6) scale(1,1.0)" font-size="44.2">M</text>
<text transform="translate(1168.78,161.2) scale(1,1.035)" font-size="42.6">Q</text>
<text transform="translate(1307.98,161.2) scale(1,1.035)" font-size="42.6">Q</text>
<text transform="translate(1336.27,253) scale(1,1.0)" font-size="44.2">M</text>
<text transform="translate(1512.68,169.6) scale(1,1.035)" font-size="42.6">Q</text>
<text transform="translate(1542.58,257.0) scale(1,1.035)" font-size="42.6">Q</text>
<g font-size="47.6">
<text transform="translate(20.5,1250.8) scale(1,1.01)" text-anchor="middle">10</text>
<text transform="translate(281.9,1250.8) scale(1,1.01)" text-anchor="middle">20</text>
<text transform="translate(543.3,1250.8) scale(1,1.01)" text-anchor="middle">30</text>
<text transform="translate(804.7,1250.8) scale(1,1.01)" text-anchor="middle">40</text>
<text transform="translate(1066.1,1250.8) scale(1,1.01)" text-anchor="middle">50</text>
<text transform="translate(1327.5,1250.8) scale(1,1.01)" text-anchor="middle">60</text>
<text transform="translate(1588.9,1250.8) scale(1,1.01)" text-anchor="middle">70</text>
</g>
<text transform="translate(836,1332.2) scale(1,1.035)" font-size="46.6" text-anchor="middle">2θ CuKα (°)</text>
<line x1="1440.3" y1="658.2" x2="1493.4" y2="658.2" stroke="#000" stroke-width="3.8"/>
<line x1="1438.8" y1="718.5" x2="1496.4" y2="718.5" stroke="#4472c4" stroke-width="4.6"/>
<g font-size="30" style="font-family:'Liberation Serif','Times New Roman',serif">
<text x="1517.9" y="663" style="font-family:'Liberation Serif','Times New Roman',serif">100N0S-0.35-2.5-G</text>
<text x="1520" y="725.2" style="font-family:'Liberation Serif','Times New Roman',serif">95N5S-0.35-2.5-G</text>
</g>
</svg>
</body></html>
